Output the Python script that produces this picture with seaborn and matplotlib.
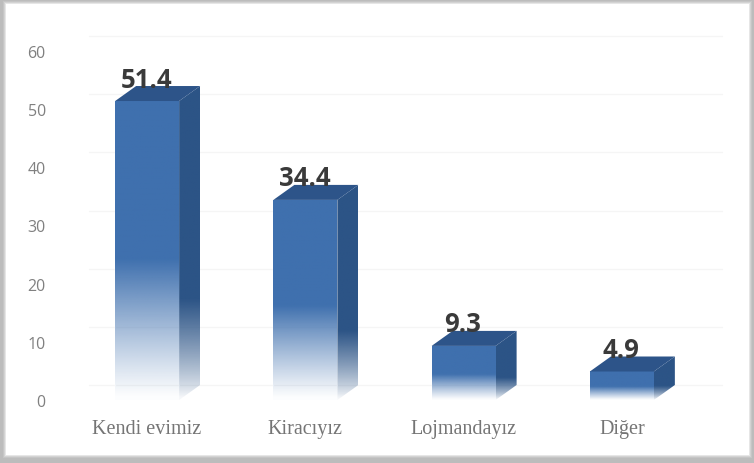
import numpy as np
import pandas as pd
import matplotlib
matplotlib.use("Agg")
import matplotlib.pyplot as plt
from matplotlib.patches import Polygon, Rectangle
from matplotlib.colors import to_rgb
import seaborn as sns

categories = ["Kendi evimiz", "Kiracıyız", "Lojmandayız", "Diğer"]
values = [51.4, 34.4, 9.3, 4.9]
y_ticks = [0, 10, 20, 30, 40, 50, 60]

W, H = 754, 464
FRONT = "#3f70ae"
SIDE = "#2c5486"
TOP = "#2d5489"

sns.set_theme(style="white")
fig = plt.figure(figsize=(W / 100, H / 100), dpi=100, facecolor="#bcbcbc")

# soft-edged white panel
for grow, alpha in [(3, .15), (2, .25), (1, .45), (0, 1)]:
    fig.add_artist(Rectangle(((6 - grow) / W, (H - 456 - grow) / H),
                             (743 + 2 * grow) / W, (451 + 2 * grow) / H,
                             transform=fig.transFigure, fc="white", ec="none", alpha=alpha,
                             zorder=-5))

ax = fig.add_axes([68 / W, (H - 401) / H, 633 / W, 349 / H], zorder=2)
ax.patch.set_alpha(0)
df = pd.DataFrame({"cat": categories, "val": values})
sns.barplot(data=df, x="cat", y="val", ax=ax, width=64 / 158.3, color=FRONT, saturation=1, zorder=3)
ax.set_xlim(-.5, 3.5)
ax.set_ylim(0, 60)
sns.despine(ax=ax, left=True, bottom=True)
ax.set_xlabel("")
ax.set_ylabel("")

DX = 21 / 158.3   # depth in x data units
DY = 15 / (349 / 60)  # depth in y data units

for t in y_ticks:
    ax.plot([-.5 + .13, 3.5 + .13], [t + DY, t + DY], color="#f5f5f5", lw=1, clip_on=False, zorder=1)


def gradient(color, solid_from=.47, power=1.1):
    # index 0 = bottom of bar: transparent; solid above solid_from of the height
    n = 200
    f = np.linspace(0, 1, n)
    a = np.clip(f / solid_from, .02, 1) ** power
    img = np.ones((n, 2, 4))
    img[..., :3] = to_rgb(color)
    img[..., 3] = np.column_stack([a, a])
    return img


for bar, v in zip(list(ax.patches), values):
    x0, x1 = bar.get_x(), bar.get_x() + bar.get_width()
    bar.set_facecolor("none")
    im = ax.imshow(gradient(FRONT), origin="lower", extent=(x0, x1, 0, v), aspect="auto",
                   zorder=4, interpolation="bilinear")
    front = Rectangle((x0, 0), x1 - x0, v, transform=ax.transData)
    im.set_clip_path(front)

    side = Polygon([(x1, 0), (x1 + DX, DY), (x1 + DX, v + DY), (x1, v)], transform=ax.transData)
    ims = ax.imshow(gradient(SIDE, solid_from=.32, power=.8), origin="lower",
                    extent=(x1, x1 + DX, 0, v + DY), aspect="auto",
                    zorder=4, interpolation="bilinear", clip_on=True)
    ims.set_clip_path(side)

    ax.add_patch(Polygon([(x0, v), (x0 + DX, v + DY), (x1 + DX, v + DY), (x1, v)],
                         fc=TOP, ec="none", zorder=4, clip_on=False))
    ax.text((x0 + x1) / 2 - .005, v + DY - .1, f"{v:.1f}", ha="center", va="baseline",
            fontsize=18.5, family="Open Sans", fontweight="bold", color="#3a3a3a", zorder=5)

ax.set_xlim(-.5, 3.5)
ax.set_ylim(0, 60)
ax.set_yticks(y_ticks)
ax.set_yticklabels([str(t) for t in y_ticks], family="Open Sans", fontsize=11.5, color="#808080")
ax.set_xticks(range(len(categories)))
ax.set_xticklabels(categories, family="Liberation Serif", fontsize=14.5, color="#757575")
ax.tick_params(axis="x", length=0, pad=14)
ax.tick_params(axis="y", length=0, pad=16)

fig.savefig("out.png", dpi=100, facecolor=fig.get_facecolor())
